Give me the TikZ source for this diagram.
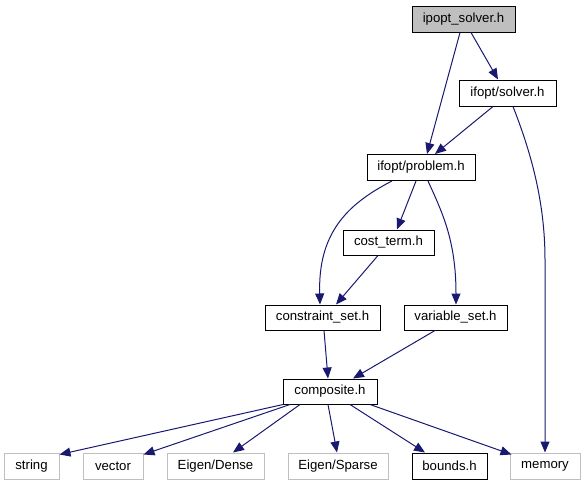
\documentclass[tikz,border=0pt]{standalone}
\usepackage{fontspec}
\setmainfont{Liberation Sans}
\usetikzlibrary{arrows.meta}
\definecolor{edgeblue}{HTML}{191970}
\definecolor{sysgray}{HTML}{BFBFBF}
\begin{document}
\begin{tikzpicture}[x=1pt,y=-1pt,
  box/.style={draw=black,line width=1pt,inner sep=0pt,minimum height=26pt,font=\fontsize{13.2}{15}\selectfont},
  rootbox/.style={box,fill=sysgray},
  sysbox/.style={box,draw=sysgray},
  edge/.style={draw=edgeblue,line width=1pt,-{Triangle[length=11pt,width=9pt,fill=edgeblue]}}]
\useasboundingbox (0,0) rectangle (585,485);
\node[rootbox,minimum width=103pt] (ipopt) at (463.5,19) {ipopt\_solver.h};
\node[box,minimum width=97pt] (solver) at (507.5,93) {ifopt/solver.h};
\node[box,minimum width=108pt] (problem) at (421,167.5) {ifopt/problem.h};
\node[box,minimum width=91pt,minimum height=25pt] (cost) at (388.5,242.5) {cost\_term.h};
\node[box,minimum width=115pt,minimum height=25pt] (constraint) at (322.5,317.5) {constraint\_set.h};
\node[box,minimum width=103pt,minimum height=25pt] (variable) at (455.5,317.5) {variable\_set.h};
\node[box,minimum width=94pt,minimum height=25pt] (composite) at (330,391.5) {composite.h};
\node[sysbox,minimum width=55pt] (string) at (31.5,466) {string};
\node[sysbox,minimum width=60pt] (vector) at (113,466) {vector};
\node[sysbox,minimum width=97pt] (dense) at (215.5,466) {Eigen/Dense};
\node[sysbox,minimum width=100pt] (sparse) at (338,466) {Eigen/Sparse};
\node[box,minimum width=75pt] (bounds) at (449.5,466) {bounds.h};
\node[sysbox,minimum width=70pt] (memory) at (545,466) {memory};

\draw[edge] ([xshift=-3.5pt]ipopt.south) -- ([xshift=6pt]problem.north);
\draw[edge] ([xshift=7.5pt]ipopt.south) -- ([xshift=-9.5pt]solver.north);
\draw[edge] ([xshift=-14.5pt]solver.south) -- ([xshift=14pt]problem.north);
\draw[edge] ([xshift=5.5pt]solver.south) .. controls (530,150) and (545,200) .. (545,260) -- (memory.north);
\draw[edge] ([xshift=-29pt]problem.south) .. controls (345,205) and (318,235) .. ([xshift=-2.5pt]constraint.north);
\draw[edge] ([xshift=-5pt]problem.south) -- ([xshift=8.5pt]cost.north);
\draw[edge] ([xshift=7pt]problem.south) .. controls (442,212) and (456,240) .. ([xshift=0.5pt]variable.north);
\draw[edge] ([xshift=-10.5pt]cost.south) -- ([xshift=13.5pt]constraint.north);
\draw[edge] ([xshift=1.5pt]constraint.south) -- ([xshift=-2pt]composite.north);
\draw[edge] ([xshift=-20.5pt]variable.south) -- ([xshift=23pt]composite.north);
\draw[edge] ([xshift=-47pt]composite.south) -- ([yshift=-2pt]string.north east);
\draw[edge] ([xshift=-40pt]composite.south) -- ([yshift=-2pt]vector.north east);
\draw[edge] ([xshift=-30pt]composite.south) -- ([xshift=17.5pt]dense.north);
\draw[edge] ([xshift=-2pt]composite.south) -- ([xshift=-1pt]sparse.north);
\draw[edge] ([xshift=20pt]composite.south) -- ([xshift=-24.5pt]bounds.north);
\draw[edge] ([xshift=40pt]composite.south) -- ([xshift=2pt,yshift=-2pt]memory.north west);
\end{tikzpicture}
\end{document}
